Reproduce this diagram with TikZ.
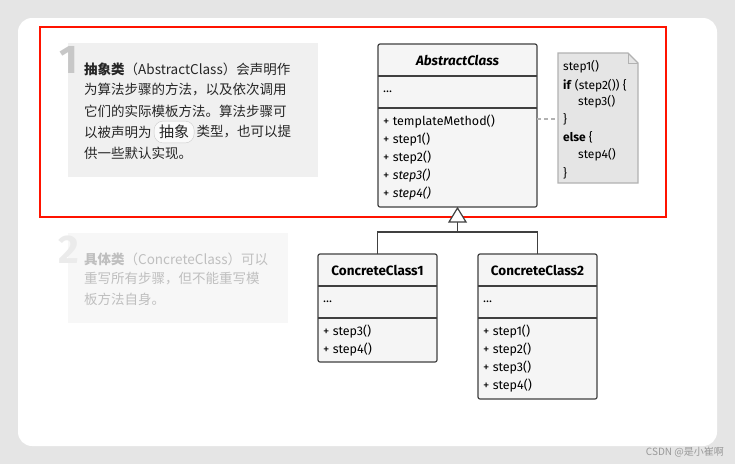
\documentclass[tikz,border=0pt]{standalone}
\usepackage{fontspec}
\setmainfont{Fira Sans}
\newfontfamily\cjk{Noto Sans CJK SC}
\begin{document}
\begin{tikzpicture}[x=1pt,y=-1pt,
  cls/.style={draw=black!75,line width=1.2pt,rounded corners=2pt,fill=black!4},
  sep/.style={draw=black!75,line width=1.2pt},
  mem/.style={anchor=west,font=\fontsize{12.5}{13}\selectfont,inner sep=0pt},
  note/.style={anchor=west,font=\fontsize{12}{13}\selectfont,inner sep=0pt},
  ttl/.style={font=\bfseries\fontsize{13.5}{15}\selectfont,inner sep=0pt},
  cn/.style={anchor=west,inner sep=0pt,font=\cjk\fontsize{13.5}{14}\selectfont},
  num/.style={font=\bfseries\fontsize{40}{40}\selectfont,inner sep=0pt}]
\useasboundingbox (0,0) rectangle (735,464);
\fill[black!10] (0,0) rectangle (735,464);
\fill[white,rounded corners=14pt] (18,18) rectangle (717,446);
% box 1
\fill[black!6] (68,43) rectangle (318,177);
\node[num,text=black!22] (n1) at (69,60) {1};
\node[cn,text=black!85] (t1a) at (84,69) {\textbf{抽象类}（AbstractClass）会声明作};
\node[cn,text=black!85] (t1b) at (84,90) {为算法步骤的方法，以及依次调用};
\node[cn,text=black!85] (t1c) at (84,111) {它们的实际模板方法。算法步骤可};
\node[cn,text=black!85] (t1d) at (84,132) {以被声明为};
\node[draw=black!20,fill=black!2,rounded corners=9pt,inner xsep=5pt,inner ysep=4pt,font=\cjk\fontsize{15}{15}\selectfont,text=black!85,anchor=west] (p) at ([xshift=2pt]t1d.east) {抽象};
\node[cn,text=black!85] (t1f) at ([xshift=2pt]p.east) {类型，也可以提};
\node[cn,text=black!85] (t1e) at (84,153) {供一些默认实现。};
% box 2
\fill[black!3] (68,233) rectangle (288,323);
\node[num,text=black!8] (n2) at (69,250) {2};
\node[cn,text=black!25] (t2a) at (84,259) {\textbf{具体类}（ConcreteClass）可以};
\node[cn,text=black!25] (t2b) at (84,279) {重写所有步骤，但不能重写模};
\node[cn,text=black!25] (t2c) at (84,299) {板方法自身。};
% red frame
\draw[red!85!orange,line width=2pt] (40,27) rectangle (666,217);
% AbstractClass
\draw[cls] (378,44) rectangle (537,207);
\draw[sep] (378,76) -- (537,76);
\draw[sep] (378,108) -- (537,108);
\node[ttl,font=\bfseries\itshape\fontsize{13.5}{15}\selectfont] (ac) at (457.5,60) {AbstractClass};
\node[mem] (ad) at (383,92) {...};
\node[mem] (m0) at (383,122) {+ templateMethod()};
\node[mem] (m1) at (383,140) {+ step1()};
\node[mem] (m2) at (383,158) {+ step2()};
\node[mem] (m3) at (383,176) {+ \textit{step3()}};
\node[mem] (m4) at (383,194) {+ \textit{step4()}};
% note
\draw[black!30,line width=1.2pt,fill=black!10] (558,53) -- (628,53) -- (638,63) -- (638,183) -- (558,183) -- cycle;
\draw[black!30,line width=1pt] (628,53) -- (628,63) -- (638,63);
\node[note] (s1) at (563,67) {step1()};
\node[note] (s2) at (563,86) {\textbf{if} (step2()) \{};
\node[note] (s3) at (578,102) {step3()};
\node[note] (s4) at (563,119) {\}};
\node[note] (s5) at (563,137) {\textbf{else} \{};
\node[note] (s6) at (578,155) {step4()};
\node[note] (s7) at (563,173) {\}};
\coordinate (na) at (537,119);
\coordinate (nb) at (558,119);
\draw[black!30,line width=1.2pt,dash pattern=on 4pt off 3pt] (na) -- (nb);
% concrete classes
\draw[cls] (318,254) rectangle (437,362);
\draw[sep] (318,286) -- (437,286);
\draw[sep] (318,318) -- (437,318);
\node[ttl] (c1) at (377.5,270) {ConcreteClass1};
\node[mem] (c1d) at (323,302) {...};
\node[mem] (c1a) at (323,332) {+ step3()};
\node[mem] (c1b) at (323,350) {+ step4()};
\draw[cls] (478,254) rectangle (597,399);
\draw[sep] (478,286) -- (597,286);
\draw[sep] (478,318) -- (597,318);
\node[ttl] (c2) at (537.5,270) {ConcreteClass2};
\node[mem] (c2d) at (483,302) {...};
\node[mem] (c2a) at (483,332) {+ step1()};
\node[mem] (c2b) at (483,350) {+ step2()};
\node[mem] (c2c) at (483,368) {+ step3()};
\node[mem] (c2e) at (483,386) {+ step4()};
% inheritance
\coordinate (tip) at (457.5,208);
\coordinate (j) at (457.5,232);
\draw[sep] (377.5,254) -- (377.5,232) -- (537.5,232) -- (537.5,254);
\draw[sep] (j) -- (457.5,222);
\draw[sep,fill=white] (tip) -- (449,222) -- (466,222) -- cycle;
\node[anchor=east,text=black!40,font=\cjk\fontsize{10}{11}\selectfont,inner sep=0pt] (wm) at (724,452) {CSDN @是小崔啊};
\end{tikzpicture}
\end{document}
